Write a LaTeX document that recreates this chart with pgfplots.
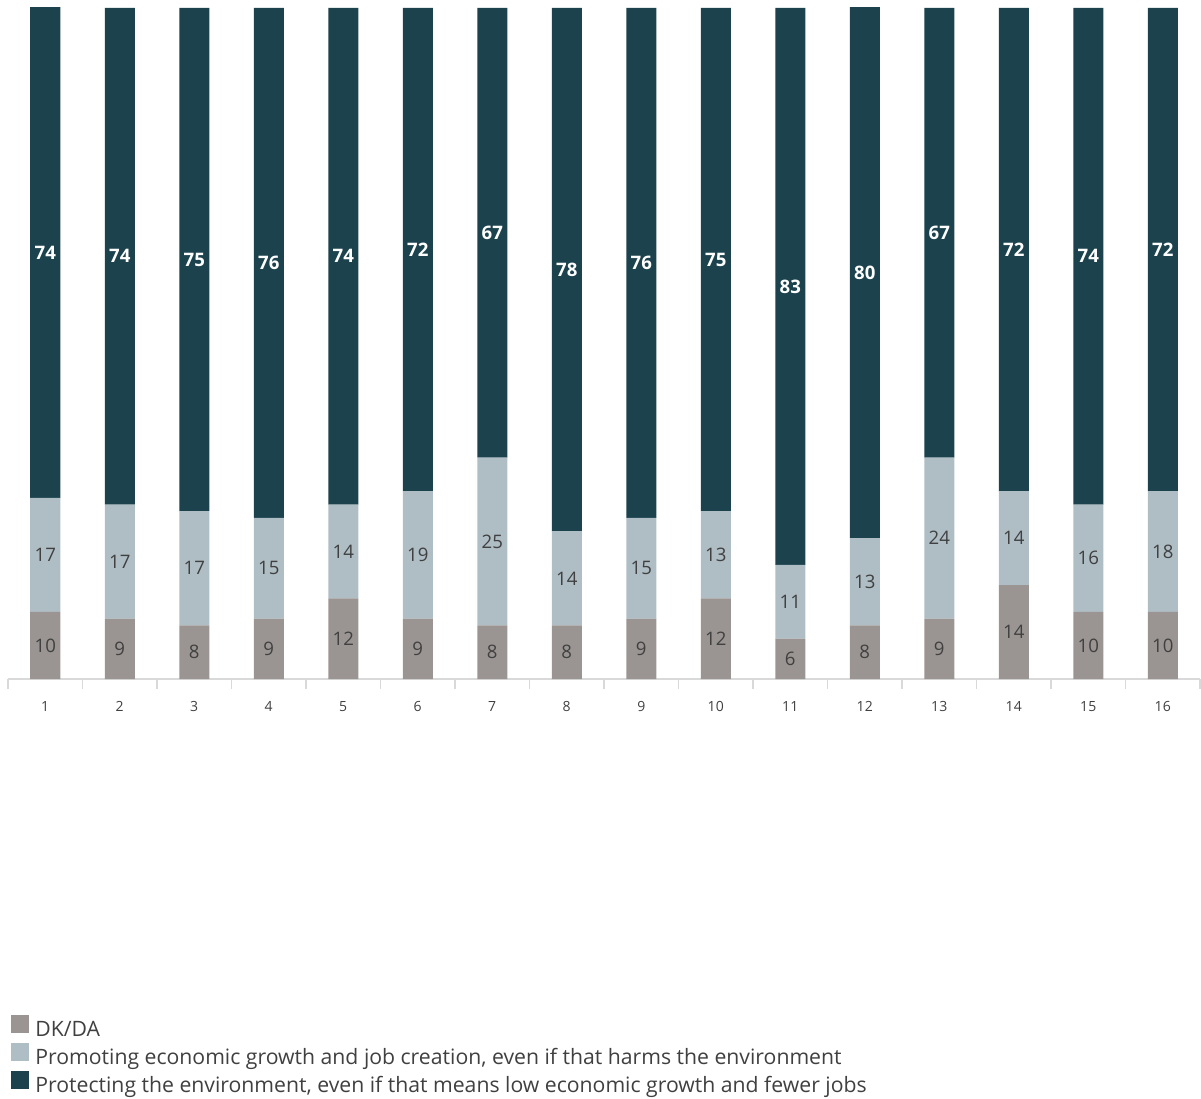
\documentclass[border=0pt]{standalone}
\usepackage{pgfplots}
\usepackage{pgfplotstable}
\pgfplotsset{compat=1.18}
\usepackage{fontspec}
\setmainfont{Open Sans}
\definecolor{cdk}{HTML}{9A9593}
\definecolor{cpr}{HTML}{AFBEC5}
\definecolor{cpe}{HTML}{1B424D}
\definecolor{ctxt}{HTML}{404040}
\definecolor{cax}{HTML}{D9D9D9}
\pgfplotstableread{
x dk pr pe
1 10 17 74
2 9 17 74
3 8 17 75
4 9 15 76
5 12 14 74
6 9 19 72
7 8 25 67
8 8 14 78
9 9 15 76
10 12 13 75
11 6 11 83
12 8 13 80
13 9 24 67
14 14 14 72
15 10 16 74
16 10 18 72
}\data
\pgfplotstablecreatecol[expr={\thisrow{dk}/2}]{m1}\data
\pgfplotstablecreatecol[expr={\thisrow{dk}+\thisrow{pr}/2}]{m2}\data
\pgfplotstablecreatecol[expr={(\thisrow{dk}+\thisrow{pr}+100)/2}]{m3}\data
\begin{document}
\begin{tikzpicture}
\useasboundingbox (0,0) rectangle (600.5pt,549.5pt);
\begin{axis}[
  at={(4pt,210pt)}, anchor=south west,
  scale only axis, width=596pt, height=335.5pt,
  ybar stacked, bar width=15pt,
  xmin=0.5, xmax=16.5, ymin=0, ymax=100,
  hide y axis,
  axis x line*=bottom,
  x axis line style={draw=cax, line width=0.6pt},
  xtick={1,...,16},
  major tick length=0pt,
  minor xtick={0.5,1.5,...,16.5},
  minor tick length=5pt,
  tick align=outside,
  minor tick style={draw=cax, line width=0.6pt},
  xticklabel style={font=\fontsize{7}{8}\selectfont, text=ctxt, yshift=-7.5pt},
  /pgf/number format/assume math mode=true,
  legend style={at={(axis description cs:0.002,-0.500)}, anchor=north west,
    draw=none, fill=none, inner sep=0pt, row sep=0.9pt,
    font=\fontsize{10.6}{11.5}\selectfont, text=ctxt,
    nodes={inner ysep=1pt, inner xsep=3.3pt, anchor=west}},
  legend cell align=left,
  legend image code/.code={\fill[#1] (0pt,-1.5pt) rectangle (9pt,7.5pt);},
]
\addplot[fill=cdk, draw=none] table[x=x,y=dk]{\data};
\addlegendentry{DK/DA}
\addplot[fill=cpr, draw=none] table[x=x,y=pr]{\data};
\addlegendentry{Promoting economic growth and job creation, even if that harms the environment}
\addplot[fill=cpe, draw=none] table[x=x,y=pe]{\data};
\addlegendentry{Protecting the environment, even if that means low economic growth and fewer jobs}
\end{axis}
\begin{axis}[
  at={(4pt,210pt)}, anchor=south west,
  scale only axis, width=596pt, height=335.5pt,
  xmin=0.5, xmax=16.5, ymin=0, ymax=100,
  hide axis, clip=false,
  nodes near coords, point meta=explicit symbolic,
  nodes near coords style={anchor=center, inner sep=0pt, font=\fontsize{9.3}{10}\selectfont},
]
\addplot[draw=none, mark=none, nodes near coords style={text=ctxt}] table[x=x,y=m1,meta=dk]{\data};
\addplot[draw=none, mark=none, nodes near coords style={text=ctxt}] table[x=x,y=m2,meta=pr]{\data};
\addplot[draw=none, mark=none, nodes near coords style={text=white, font=\fontsize{9.3}{10}\selectfont\bfseries}] table[x=x,y=m3,meta=pe]{\data};
\end{axis}
\end{tikzpicture}
\end{document}
